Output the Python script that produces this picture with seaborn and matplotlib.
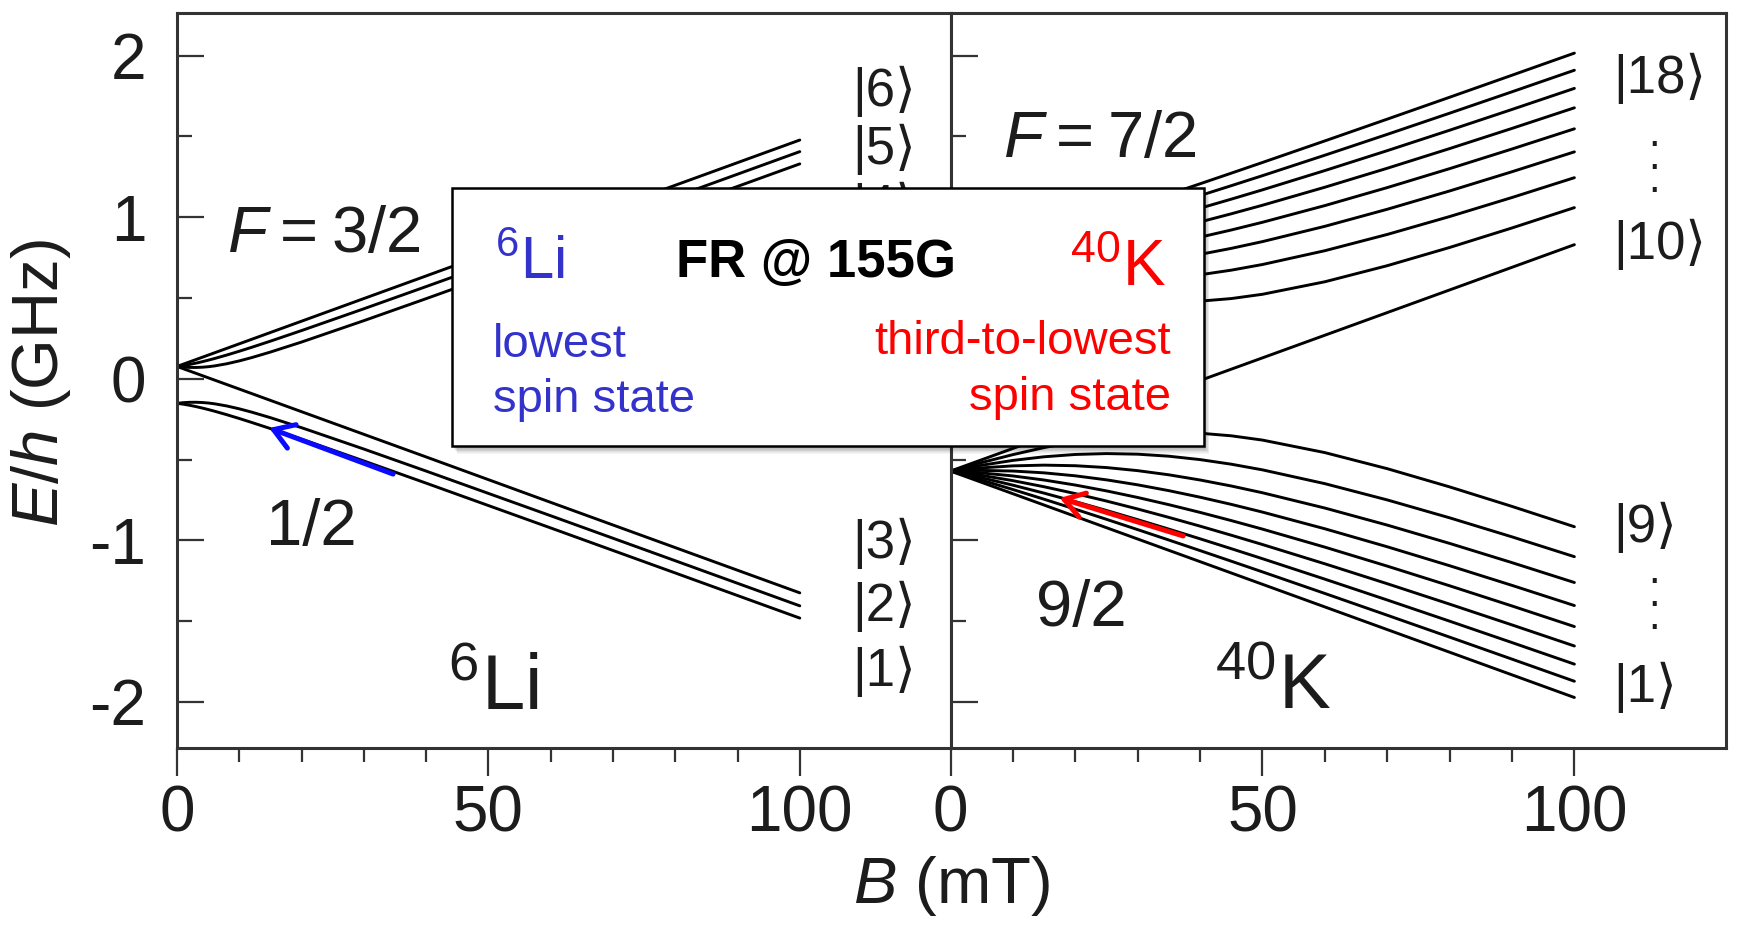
import numpy as np
import pandas as pd
import matplotlib
matplotlib.use("Agg")
import matplotlib.pyplot as plt
import seaborn as sns
from matplotlib.patches import Rectangle

# ---------------------------------------------------------------------------
# Breit-Rabi level energies E/h (GHz) versus magnetic field B (mT)
# ---------------------------------------------------------------------------
li_field_mT = [0, 1, 2, 3, 4, 5, 6, 8, 10, 12, 15, 20, 30, 40, 60, 80, 100]
li_state_1 = [-0.1521, -0.1575, -0.1642, -0.1721, -0.1809, -0.1905, -0.2007, -0.2227, -0.2461,
              -0.2706, -0.3085, -0.3740, -0.5088, -0.6461, -0.9233, -1.2019, -1.4812]
li_state_2 = [-0.1521, -0.1482, -0.1460, -0.1457, -0.1471, -0.1502, -0.1550, -0.1686, -0.1863,
              -0.2068, -0.2410, -0.3030, -0.4352, -0.5714, -0.8478, -1.1262, -1.4054]
li_state_3 = [0.076, 0.062, 0.048, 0.034, 0.020, 0.006, -0.008, -0.036, -0.064,
              -0.092, -0.134, -0.204, -0.344, -0.484, -0.765, -1.045, -1.325]
li_state_4 = [0.076, 0.0722, 0.0700, 0.0696, 0.0711, 0.0742, 0.0790, 0.0926, 0.1103,
              0.1308, 0.1650, 0.2270, 0.3592, 0.4954, 0.7718, 1.0502, 1.3294]
li_state_5 = [0.076, 0.0815, 0.0882, 0.0961, 0.1049, 0.1145, 0.1247, 0.1467, 0.1701,
              0.1945, 0.2325, 0.2980, 0.4328, 0.5701, 0.8473, 1.1259, 1.4052]
li_state_6 = [0.076, 0.090, 0.104, 0.118, 0.132, 0.146, 0.160, 0.188, 0.216,
              0.244, 0.286, 0.356, 0.496, 0.636, 0.917, 1.197, 1.477]

k_field_mT = [0, 5, 10, 15, 20, 25, 30, 35, 40, 45, 50, 60, 70, 80, 90, 100]
k_state_1 = [-0.5715, -0.6415, -0.7116, -0.7817, -0.8517, -0.9218, -0.9918, -1.0619,
             -1.1319, -1.2020, -1.2720, -1.4121, -1.5522, -1.6923, -1.8324, -1.9725]
k_state_2 = [-0.5715, -0.6274, -0.6856, -0.7456, -0.8072, -0.8700, -0.9337, -0.9982,
             -1.0634, -1.1291, -1.1952, -1.3287, -1.4634, -1.5989, -1.7352, -1.8720]
k_state_3 = [-0.5715, -0.6129, -0.6586, -0.7080, -0.7604, -0.8152, -0.8721, -0.9306,
             -0.9905, -1.0516, -1.1136, -1.2402, -1.3692, -1.5002, -1.6326, -1.7661]
k_state_4 = [-0.5715, -0.5981, -0.6307, -0.6685, -0.7108, -0.7569, -0.8061, -0.8581,
             -0.9122, -0.9683, -1.0259, -1.1452, -1.2684, -1.3948, -1.5234, -1.6538]
k_state_5 = [-0.5715, -0.5830, -0.6016, -0.6268, -0.6579, -0.6941, -0.7348, -0.7794,
             -0.8271, -0.8777, -0.9306, -1.0421, -1.1595, -1.2812, -1.4061, -1.5336]
k_state_6 = [-0.5715, -0.5675, -0.5712, -0.5824, -0.6008, -0.6257, -0.6566, -0.6926,
             -0.7331, -0.7775, -0.8252, -0.9285, -1.0398, -1.1571, -1.2787, -1.4036]
k_state_7 = [-0.5715, -0.5517, -0.5392, -0.5347, -0.5383, -0.5497, -0.5688, -0.5946,
             -0.6266, -0.6638, -0.7056, -0.8002, -0.9057, -1.0190, -1.1380, -1.2610]
k_state_8 = [-0.5715, -0.5354, -0.5055, -0.4830, -0.4687, -0.4632, -0.4669, -0.4795,
             -0.5005, -0.5289, -0.5639, -0.6493, -0.7499, -0.8607, -0.9785, -1.1012]
k_state_9 = [-0.5715, -0.5187, -0.4697, -0.4259, -0.3886, -0.3595, -0.3405, -0.3328,
             -0.3372, -0.3532, -0.3797, -0.4571, -0.5566, -0.6693, -0.7901, -0.9159]
k_state_10 = [-0.5715, -0.5015, -0.4314, -0.3613, -0.2913, -0.2212, -0.1512, -0.0811,
              -0.0111, 0.0590, 0.1290, 0.2691, 0.4092, 0.5493, 0.6894, 0.8295]
k_state_11 = [0.7143, 0.6615, 0.6126, 0.5688, 0.5315, 0.5024, 0.4833, 0.4756,
              0.4800, 0.4960, 0.5225, 0.5999, 0.6994, 0.8121, 0.9329, 1.0587]
k_state_12 = [0.7143, 0.6782, 0.6484, 0.6258, 0.6115, 0.6060, 0.6097, 0.6223,
              0.6433, 0.6717, 0.7067, 0.7921, 0.8927, 1.0035, 1.1213, 1.2440]
k_state_13 = [0.7143, 0.6945, 0.6821, 0.6776, 0.6811, 0.6926, 0.7116, 0.7374,
              0.7694, 0.8066, 0.8484, 0.9430, 1.0485, 1.1618, 1.2808, 1.4038]
k_state_14 = [0.7143, 0.7103, 0.7140, 0.7252, 0.7436, 0.7685, 0.7994, 0.8354,
              0.8759, 0.9203, 0.9680, 1.0713, 1.1826, 1.2999, 1.4215, 1.5464]
k_state_15 = [0.7143, 0.7258, 0.7444, 0.7696, 0.8007, 0.8369, 0.8776, 0.9222,
              0.9699, 1.0205, 1.0734, 1.1849, 1.3023, 1.4240, 1.5489, 1.6764]
k_state_16 = [0.7143, 0.7409, 0.7735, 0.8114, 0.8537, 0.8997, 0.9489, 1.0009,
              1.0550, 1.1111, 1.1687, 1.2880, 1.4112, 1.5376, 1.6662, 1.7966]
k_state_17 = [0.7143, 0.7557, 0.8015, 0.8509, 0.9033, 0.9581, 1.0149, 1.0734,
              1.1333, 1.1944, 1.2564, 1.3830, 1.5120, 1.6430, 1.7754, 1.9089]
k_state_18 = [0.7143, 0.7702, 0.8284, 0.8885, 0.9501, 1.0128, 1.0765, 1.1410,
              1.2062, 1.2719, 1.3380, 1.4715, 1.6062, 1.7417, 1.8780, 2.0148]

li_states = [li_state_1, li_state_2, li_state_3, li_state_4, li_state_5, li_state_6]
k_states = [k_state_1, k_state_2, k_state_3, k_state_4, k_state_5, k_state_6,
            k_state_7, k_state_8, k_state_9, k_state_10, k_state_11, k_state_12,
            k_state_13, k_state_14, k_state_15, k_state_16, k_state_17, k_state_18]

x_major_ticks = [0, 50, 100]
x_minor_ticks = [10, 20, 30, 40, 60, 70, 80, 90]
y_major_ticks = [-2, -1, 0, 1, 2]
y_minor_ticks = [-1.5, -0.5, 0.5, 1.5]

# marked states: Li |1> and K |3> near B ~ 15 mT
li_arrow_tail, li_arrow_head = (34.7, -0.59), (14.8, -0.305)
k_arrow_tail, k_arrow_head = (37.3, -0.973), (17.5, -0.738)


def long_form(field, states):
    rows = []
    for i, levels in enumerate(states, start=1):
        for b, e in zip(field, levels):
            rows.append({"B": b, "E": e, "state": f"|{i}\u27e9"})
    return pd.DataFrame(rows)


li_df = long_form(li_field_mT, li_states)
k_df = long_form(k_field_mT, k_states)

# ---------------------------------------------------------------------------
# Style
# ---------------------------------------------------------------------------
sns.set_theme(style="white")
plt.rcParams["font.family"] = ["Liberation Sans", "DejaVu Sans"]
plt.rcParams["mathtext.fontset"] = "custom"
plt.rcParams["mathtext.rm"] = "Liberation Sans"
plt.rcParams["mathtext.it"] = "Liberation Sans:italic"
plt.rcParams["mathtext.bf"] = "Liberation Sans:bold"
plt.rcParams["axes.unicode_minus"] = False

INK = "#1c1c1c"
SPINE = "#333333"
TEXT_BLUE = "#3333cc"
TEXT_RED = "#ff0000"
THIN = "\u2009"

W, H = 1737, 933
fig = plt.figure(figsize=(W / 100, H / 100), dpi=100)
fig.patch.set_facecolor("white")

ax_li = fig.add_axes([177 / W, 1 - 748 / H, 773.5 / W, 735 / H])
ax_k = fig.add_axes([950.5 / W, 1 - 748 / H, 775.5 / W, 735 / H])

sns.lineplot(data=li_df, x="B", y="E", hue="state", ax=ax_li, legend=False,
             palette={s: "black" for s in li_df["state"].unique()}, linewidth=2.1,
             estimator=None)
sns.lineplot(data=k_df, x="B", y="E", hue="state", ax=ax_k, legend=False,
             palette={s: "black" for s in k_df["state"].unique()}, linewidth=2.1,
             estimator=None)

for ax, xmax in ((ax_li, 124.2), (ax_k, 124.3)):
    ax.set_xlim(0, xmax)
    ax.set_ylim(-2.285, 2.263)
    ax.set_xticks(x_major_ticks)
    ax.set_xticks(x_minor_ticks, minor=True)
    ax.set_yticks(y_major_ticks)
    ax.set_yticks(y_minor_ticks, minor=True)
    ax.set_xlabel("")
    ax.set_ylabel("")
    ax.set_facecolor("white")
    for sp in ax.spines.values():
        sp.set_visible(True)
        sp.set_color(SPINE)
        sp.set_linewidth(2.2)
    ax.tick_params(axis="x", which="major", direction="out", length=20, width=1.6,
                   color=SPINE, labelsize=46, labelcolor=INK, pad=6, bottom=True)
    ax.tick_params(axis="x", which="minor", direction="out", length=10, width=1.6,
                   color=SPINE, bottom=True)
    ax.tick_params(axis="y", which="major", direction="in", length=19.5, width=1.6,
                   color=SPINE, labelsize=46, labelcolor=INK, pad=22, left=True)
    ax.tick_params(axis="y", which="minor", direction="in", length=11, width=1.6,
                   color=SPINE, left=True)
    ax.grid(False)

ax_k.tick_params(axis="y", which="both", labelleft=False)

# ---------------------------------------------------------------------------
# Annotations inside the panels
# ---------------------------------------------------------------------------
big = 47
ax_li.text(8.0, 0.784, f"$F${THIN}={THIN}3/2", fontsize=big, color=INK,
           ha="left", va="baseline")
ax_li.text(14.3, -1.03, "1/2", fontsize=big, color=INK, ha="left", va="baseline")
ax_li.text(43.5, -2.05, "${}^{6}$Li", fontsize=56, color=INK, ha="left", va="baseline")

ax_k.text(8.4, 1.37, f"$F${THIN}={THIN}7/2", fontsize=big, color=INK,
          ha="left", va="baseline")
ax_k.text(13.7, -1.53, "9/2", fontsize=big, color=INK, ha="left", va="baseline")
ax_k.text(42.4, -2.045, "${}^{40}$K", fontsize=56, color=INK, ha="left", va="baseline")

ket = 38
li_ket_y = {"|6\u27e9": 1.78, "|5\u27e9": 1.42, "|4\u27e9": 1.06,
            "|3\u27e9": -1.02, "|2\u27e9": -1.41, "|1\u27e9": -1.81}
for lab, y in li_ket_y.items():
    ax_li.text(108.5, y, lab, fontsize=ket, color=INK, ha="left", va="center")

k_ket_y = {"|18\u27e9": 1.86, "|10\u27e9": 0.83, "|9\u27e9": -0.92, "|1\u27e9": -1.91}
for lab, y in k_ket_y.items():
    ax_k.text(106.3, y, lab, fontsize=ket, color=INK, ha="left", va="center")
# vertical ellipses between the ket labels
for y in (1.365, -1.34):
    ax_k.text(112.8, y, ".\n.\n.", fontsize=30, color=INK, ha="center", va="center",
              linespacing=0.45)

ax_li.annotate("", xy=li_arrow_head, xytext=li_arrow_tail,
               arrowprops=dict(arrowstyle="->,head_length=0.7,head_width=0.45",
                               color="#0a0aff", lw=3.6, mutation_scale=20,
                               shrinkA=0, shrinkB=0), zorder=5)
ax_k.annotate("", xy=k_arrow_head, xytext=k_arrow_tail,
              arrowprops=dict(arrowstyle="->,head_length=0.7,head_width=0.45",
                              color="#ff0000", lw=3.6, mutation_scale=20,
                              shrinkA=0, shrinkB=0), zorder=5)

# ---------------------------------------------------------------------------
# Axis titles
# ---------------------------------------------------------------------------
fig.text(41 / W, 1 - 383 / H, "$E/h$ (GHz)", rotation=90, fontsize=47, color=INK,
         ha="center", va="center")
fig.text(952 / W, 1 - 886 / H, "$B$ (mT)", fontsize=47, color=INK,
         ha="center", va="center")

# ---------------------------------------------------------------------------
# Call-out box with soft drop shadow
# ---------------------------------------------------------------------------
bx0, by0, bx1, by1 = 452, 188, 1204, 446
for i in range(1, 10):
    fig.add_artist(Rectangle(((bx0 + 0.6 * i) / W, 1 - (by1 + 0.9 * i) / H),
                             (bx1 - bx0) / W, (by1 - by0) / H,
                             transform=fig.transFigure, facecolor="black",
                             edgecolor="none", alpha=0.04, zorder=9))
fig.add_artist(Rectangle((bx0 / W, 1 - by1 / H), (bx1 - bx0) / W, (by1 - by0) / H,
                         transform=fig.transFigure, facecolor="white",
                         edgecolor="black", linewidth=1.8, zorder=10))

fig.text(495 / W, 1 - 279 / H, "${}^{6}$Li", fontsize=43, color=TEXT_BLUE,
         ha="left", va="baseline", zorder=11)
fig.text(816 / W, 1 - 277 / H, "FR @ 155G", fontsize=38, color="black",
         fontweight="bold", ha="center", va="baseline", zorder=11)
fig.text(1166 / W, 1 - 286 / H, "${}^{40}$K", fontsize=46, color=TEXT_RED,
         ha="right", va="baseline", zorder=11)
fig.text(493 / W, 1 - 357 / H, "lowest", fontsize=34, color=TEXT_BLUE,
         ha="left", va="baseline", zorder=11)
fig.text(493 / W, 1 - 412 / H, "spin state", fontsize=34, color=TEXT_BLUE,
         ha="left", va="baseline", zorder=11)
fig.text(1171 / W, 1 - 354 / H, "third-to-lowest", fontsize=34, color=TEXT_RED,
         ha="right", va="baseline", zorder=11)
fig.text(1171 / W, 1 - 410 / H, "spin state", fontsize=34, color=TEXT_RED,
         ha="right", va="baseline", zorder=11)

fig.savefig("out.png", dpi=100, facecolor="white")
